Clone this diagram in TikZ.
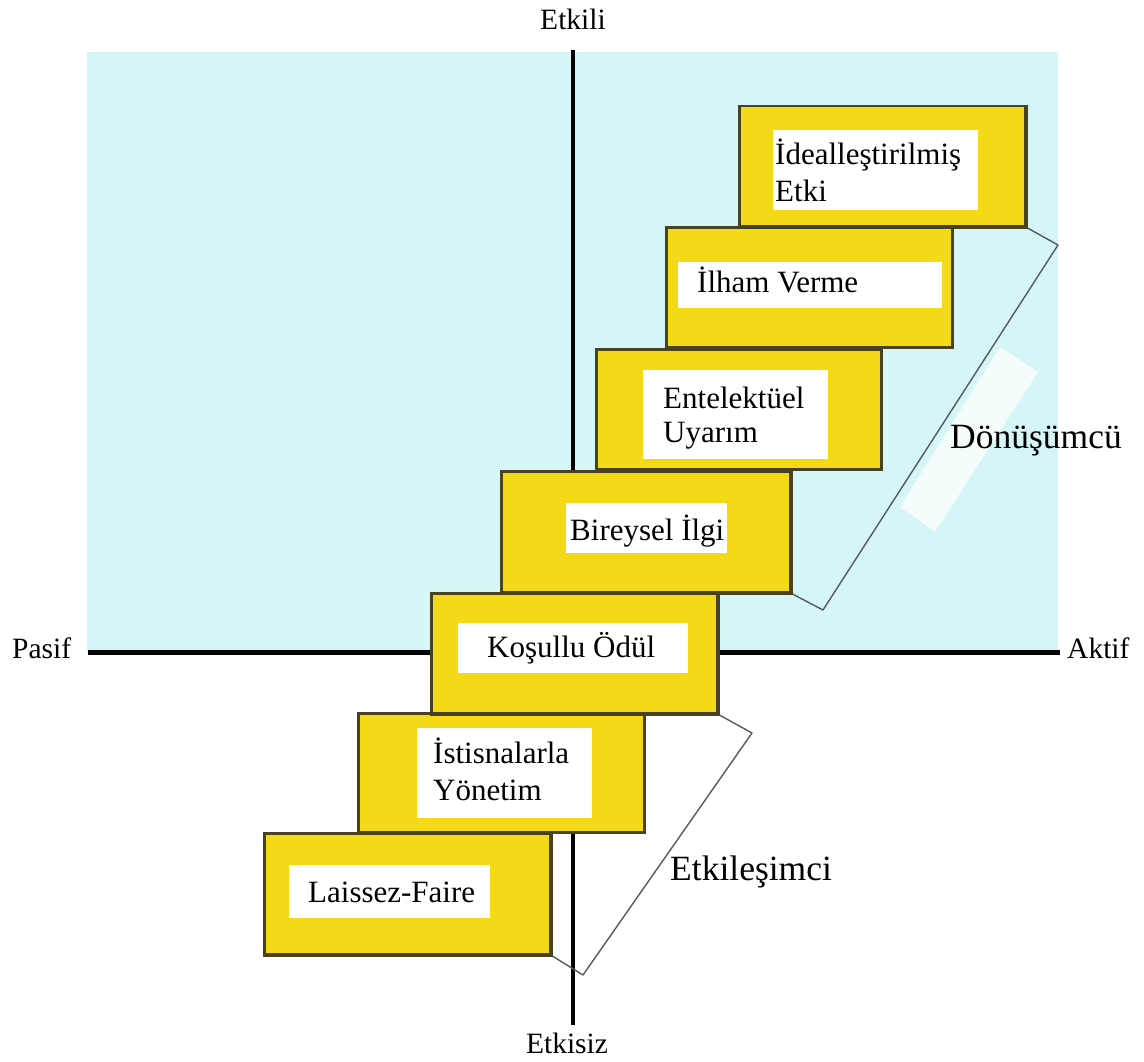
\documentclass[tikz,border=0pt]{standalone}
\usepackage{fontspec}
\setmainfont{Liberation Serif}
\definecolor{skyfill}{RGB}{213,245,247}
\definecolor{stepyellow}{RGB}{243,217,22}
\definecolor{stepedge}{RGB}{72,66,32}
\definecolor{bandedge}{RGB}{85,90,95}
\begin{document}
\begin{tikzpicture}[x=1pt,y=-1pt,
  stepbox/.style={draw=stepedge, line width=2.5pt, fill=stepyellow,
    minimum width=286pt, minimum height=120pt, anchor=north west, inner sep=0pt},
  labelbox/.style={fill=white, inner sep=0pt, anchor=north west},
  boxtext/.style={font=\fontsize{31}{36}\selectfont, inner sep=0pt, anchor=base west},
  axislabel/.style={font=\fontsize{29.5}{34}\selectfont, inner sep=0pt},
  grouplabel/.style={font=\fontsize{35.5}{40}\selectfont, inner sep=0pt, anchor=base west},
  bandline/.style={draw=bandedge, line width=1.4pt, line join=round}]

% canvas and the upper (effective) half-plane
\useasboundingbox (0,0) rectangle (1144,1062);
\fill[white] (0,0) rectangle (1144,1062);
\fill[skyfill] (87,52) rectangle (1058,652);

% axes
\coordinate (vtop) at (573,50);
\coordinate (vbot) at (573,1025);
\coordinate (hleft) at (88,652);
\coordinate (hright) at (1060,652);
\draw[line width=3.5pt] (vtop) -- (vbot);
\draw[line width=5pt] (hleft) -- (hright);

% light strip inside the transformational band
\coordinate (s1) at (1000,347);
\coordinate (s2) at (1038,372);
\coordinate (s3) at (935,532);
\coordinate (s4) at (900,507);
\fill[white, opacity=0.75] (s1) -- (s2) -- (s3) -- (s4) -- cycle;

% steps
\node[stepbox] (b1) at (738,105) {};
\node[stepbox] (b2) at (665,226) {};
\node[stepbox, minimum width=285pt] (b3) at (595,348) {};
\node[stepbox, minimum width=289pt, minimum height=121pt] (b4) at (500,470) {};
\node[stepbox] (b5) at (430,592) {};
\node[stepbox, minimum height=119pt] (b6) at (357,712) {};
\node[stepbox, minimum height=121pt] (b7) at (263,832) {};

% band outlines
\coordinate (ua) at (1058,245);
\coordinate (ub) at (823,610);
\coordinate (la) at (752,733);
\coordinate (lb) at (583,975);
\draw[bandline] (b1.south east) -- (ua) -- (ub) -- (b4.south east);
\draw[bandline] (b5.south east) -- (la) -- (lb) -- (b7.south east);

% redraw step borders over band ends
\foreach \b in {b1,b4,b5,b7}
  \draw[stepedge, line width=2.5pt] (\b.north east) -- (\b.south east) -- (\b.south west);

% white label panels
\node[labelbox, minimum width=205pt, minimum height=80pt] (w1) at (773,130) {};
\node[labelbox, minimum width=264pt, minimum height=46pt] (w2) at (678,262) {};
\node[labelbox, minimum width=185pt, minimum height=89pt] (w3) at (643,370) {};
\node[labelbox, minimum width=161pt, minimum height=50pt] (w4) at (566,503) {};
\node[labelbox, minimum width=230pt, minimum height=50pt] (w5) at (458,623) {};
\node[labelbox, minimum width=175pt, minimum height=90pt] (w6) at (417,728) {};
\node[labelbox, minimum width=201pt, minimum height=53pt] (w7) at (289,865) {};

% step texts
\node[boxtext] (t1a) at (775,165) {İdealleştirilmiş};
\node[boxtext] (t1b) at (775,202) {Etki};
\node[boxtext] (t2) at (697,292) {İlham Verme};
\node[boxtext] (t3a) at (663,408) {Entelektüel};
\node[boxtext] (t3b) at (663,442) {Uyarım};
\node[boxtext] (t4) at (570,540) {Bireysel İlgi};
\node[boxtext] (t5) at (487,657) {Koşullu Ödül};
\node[boxtext] (t6a) at (433,763) {İstisnalarla};
\node[boxtext] (t6b) at (433,800) {Yönetim};
\node[boxtext] (t7) at (308,902) {Laissez-Faire};

% group labels
\node[grouplabel] (donus) at (950,448) {Dönüşümcü};
\node[grouplabel] (etkil) at (670,880) {Etkileşimci};

% axis labels
\node[axislabel, anchor=base] (etkili) at (573,30) {Etkili};
\node[axislabel, anchor=base] (etkisiz) at (567,1053) {Etkisiz};
\node[axislabel, anchor=base west] (pasif) at (12,658) {Pasif};
\node[axislabel, anchor=base west] (aktif) at (1067,658) {Aktif};
\end{tikzpicture}
\end{document}
